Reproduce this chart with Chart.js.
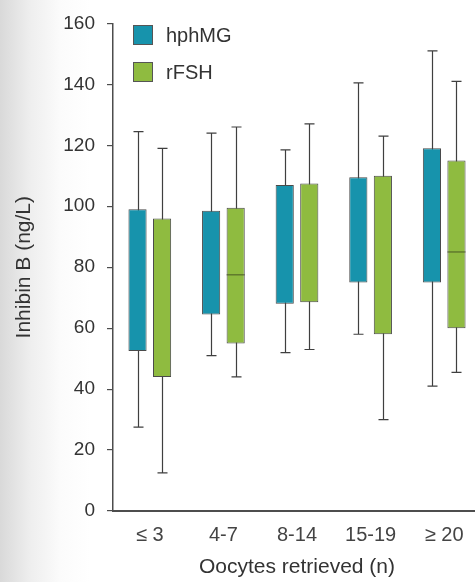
<!DOCTYPE html>
<html lang="en">
<head>
    <meta charset="UTF-8">
    <title>Inhibin B by oocytes retrieved</title>
    <script src="https://cdn.jsdelivr.net/npm/chart.js"></script>
    <style>
        html, body {
            margin: 0;
            padding: 0;
        }
        body {
            width: 475px;
            height: 582px;
            overflow: hidden;
            background: linear-gradient(to right, #d9d9d9 0px, #eeeeee 30px, #fbfbfb 60px, #ffffff 90px);
        }
        #wrap {
            width: 482px;
            height: 582px;
        }
    </style>
</head>
<body>
    <div id="wrap"><canvas id="myChart" width="482" height="582"></canvas></div>

    <script>
        // categories and box plot values (ng/L)
        const categories = ['\u2264 3', '4-7', '8-14', '15-19', '\u2265 20'];

        const hphmgQ1  = [52.5, 64.5, 68, 75, 75];
        const hphmgQ3  = [99, 98.5, 107, 109.5, 119];
        const hphmgMin = [27.5, 51, 52, 58, 41];
        const hphmgMax = [124.5, 124, 118.5, 140.5, 151];
        const hphmgMed = [null, null, null, null, null];

        const rfshQ1  = [44, 55, 68.5, 58, 60];
        const rfshQ3  = [96, 99.5, 107.5, 110, 115];
        const rfshMin = [12.5, 44, 53, 30, 45.5];
        const rfshMax = [119, 126, 127, 123, 141];
        const rfshMed = [null, 77.5, null, null, 85];

        const yTicks = [0, 20, 40, 60, 80, 100, 120, 140, 160];

        const tealColor = '#1793ac';
        const greenColor = '#8fbb40';

        const whiskers = {
            0: { min: hphmgMin, max: hphmgMax, med: hphmgMed },
            1: { min: rfshMin, max: rfshMax, med: rfshMed }
        };

        // whiskers behind the boxes, medians on top
        const boxPlugin = {
            id: 'boxWhiskers',
            beforeDatasetsDraw(chart) {
                const ctx = chart.ctx;
                const y = chart.scales.y;
                ctx.save();
                ctx.strokeStyle = '#3f3f3f';
                ctx.lineWidth = 1.2;
                Object.keys(whiskers).forEach(i => {
                    const meta = chart.getDatasetMeta(i);
                    const w = whiskers[i];
                    meta.data.forEach((bar, j) => {
                        const x = Math.round(bar.x) + 0.5;
                        const top = y.getPixelForValue(w.max[j]);
                        const bot = y.getPixelForValue(w.min[j]);
                        ctx.beginPath();
                        ctx.moveTo(x, top);
                        ctx.lineTo(x, bot);
                        ctx.moveTo(x - 5, top);
                        ctx.lineTo(x + 5, top);
                        ctx.moveTo(x - 5, bot);
                        ctx.lineTo(x + 5, bot);
                        ctx.stroke();
                    });
                });
                ctx.restore();
            },
            afterDatasetsDraw(chart) {
                const ctx = chart.ctx;
                const y = chart.scales.y;
                ctx.save();
                ctx.strokeStyle = 'rgba(60,70,30,0.7)';
                ctx.lineWidth = 1.2;
                Object.keys(whiskers).forEach(i => {
                    const meta = chart.getDatasetMeta(i);
                    const w = whiskers[i];
                    meta.data.forEach((bar, j) => {
                        if (w.med[j] == null) return;
                        const py = y.getPixelForValue(w.med[j]);
                        ctx.beginPath();
                        ctx.moveTo(bar.x - bar.width / 2, py);
                        ctx.lineTo(bar.x + bar.width / 2, py);
                        ctx.stroke();
                    });
                });

                // legend in the top-left of the plot area
                const items = [
                    { label: 'hphMG', color: tealColor },
                    { label: 'rFSH', color: greenColor }
                ];
                const left = chart.chartArea.left + 20;
                items.forEach((it, k) => {
                    const top = 25 + k * 37;
                    ctx.fillStyle = it.color;
                    ctx.fillRect(left, top, 20, 20);
                    ctx.strokeStyle = '#555';
                    ctx.lineWidth = 1;
                    ctx.strokeRect(left + 0.5, top + 0.5, 19, 19);
                    ctx.fillStyle = '#333';
                    ctx.font = '20px Arial';
                    ctx.textBaseline = 'middle';
                    ctx.fillText(it.label, left + 33, top + 11);
                });
                ctx.restore();
            }
        };

        const ctx = document.getElementById('myChart').getContext('2d');
        const myChart = new Chart(ctx, {
            type: 'bar',
            data: {
                labels: categories,
                datasets: [{
                    label: 'hphMG',
                    data: hphmgQ1.map((v, i) => [v, hphmgQ3[i]]),
                    backgroundColor: tealColor,
                    borderColor: '#4a4a4a',
                    borderWidth: 1,
                    borderSkipped: false,
                    categoryPercentage: 0.667,
                    barPercentage: 0.74
                }, {
                    label: 'rFSH',
                    data: rfshQ1.map((v, i) => [v, rfshQ3[i]]),
                    backgroundColor: greenColor,
                    borderColor: '#4a4a4a',
                    borderWidth: 1,
                    borderSkipped: false,
                    categoryPercentage: 0.667,
                    barPercentage: 0.74
                }]
            },
            options: {
                responsive: false,
                animation: false,
                layout: {
                    padding: { top: 20, right: 1, bottom: 2, left: 8 }
                },
                plugins: {
                    legend: { display: false },
                    tooltip: { enabled: false }
                },
                scales: {
                    x: {
                        grid: { display: false, drawTicks: false },
                        border: { display: true, color: '#4d4d4d', width: 2 },
                        ticks: {
                            color: '#444',
                            font: { family: 'Arial', size: 20 },
                            padding: 12
                        },
                        title: {
                            display: true,
                            text: 'Oocytes retrieved (n)',
                            color: '#333',
                            font: { family: 'Arial', size: 21 },
                            padding: { top: 4, bottom: 0 }
                        },
                        afterFit(scale) { scale.height = 69; }
                    },
                    y: {
                        min: 0,
                        max: 160,
                        afterBuildTicks(scale) {
                            scale.ticks = yTicks.map(v => ({ value: v }));
                        },
                        grid: {
                            display: true,
                            drawOnChartArea: false,
                            drawTicks: true,
                            tickLength: 6,
                            color: '#4d4d4d',
                            lineWidth: 1.2
                        },
                        border: { display: true, color: '#4d4d4d', width: 1.5 },
                        ticks: {
                            color: '#333',
                            font: { family: 'Arial', size: 19 },
                            padding: 12
                        },
                        title: {
                            display: true,
                            text: 'Inhibin B (ng/L)',
                            color: '#333',
                            font: { family: 'Arial', size: 21 },
                            padding: { top: 4, bottom: 4 }
                        },
                        afterFit(scale) { scale.width = 105; }
                    }
                }
            },
            plugins: [boxPlugin]
        });
    </script>
</body>
</html>
